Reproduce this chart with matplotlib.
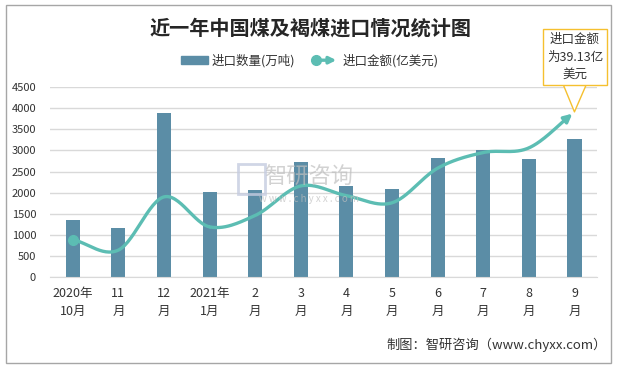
import numpy as np
import matplotlib
matplotlib.use('Agg')
import matplotlib.pyplot as plt
from matplotlib.patches import Rectangle, FancyArrowPatch
from matplotlib.lines import Line2D
from matplotlib.legend_handler import HandlerBase

plt.rcParams['font.family'] = ['Noto Sans CJK SC', 'DejaVu Sans']

months = ['2020年\n10月', '11\n月', '12\n月', '2021年\n1月', '2\n月', '3\n月',
          '4\n月', '5\n月', '6\n月', '7\n月', '8\n月', '9\n月']
qty = [1350, 1160, 3880, 2015, 2060, 2725, 2155, 2085, 2820, 3010, 2795, 3270]   # 万吨
amount = [8.9, 6.4, 19.0, 11.9, 14.6, 21.6, 19.3, 17.6, 25.8, 29.5, 30.6, 39.13]  # 亿美元

BAR = '#5B8DA6'
LINE = '#5CBDB3'


def catmull(x, y, n=30):
    # smoothed line like the office "smooth line" option
    x = np.asarray(x, float); y = np.asarray(y, float)
    px = np.concatenate([[2*x[0]-x[1]], x, [2*x[-1]-x[-2]]])
    py = np.concatenate([[2*y[0]-y[1]], y, [2*y[-1]-y[-2]]])
    xs, ys = [], []
    t = np.linspace(0, 1, n)
    for i in range(1, len(px)-2):
        for p, out in ((px, xs), (py, ys)):
            p0, p1, p2, p3 = p[i-1], p[i], p[i+1], p[i+2]
            out.extend(0.5*((2*p1) + (-p0+p2)*t + (2*p0-5*p1+4*p2-p3)*t**2 + (-p0+3*p1-3*p2+p3)*t**3))
    return np.array(xs), np.array(ys)


class ArrowHandler(HandlerBase):
    def create_artists(self, legend, orig_handle, xdescent, ydescent, width, height, fontsize, trans):
        y = height/2 - ydescent
        arr = FancyArrowPatch((-xdescent + 3, y), (width - xdescent, y), arrowstyle='-|>',
                              mutation_scale=10, color=LINE, lw=2.4, transform=trans)
        dot = Line2D([-xdescent + 3], [y], marker='o', ms=7, color=LINE, transform=trans)
        return [arr, dot]


fig = plt.figure(figsize=(6.17, 3.69), dpi=100)
fig.patches.append(Rectangle((0.009, 0.016), 0.982, 0.97, transform=fig.transFigure,
                             fill=False, edgecolor='#A6A6A6', lw=1))

ax = fig.add_axes([0.081, 0.249, 0.887, 0.515])
x = np.arange(len(months))
bars = ax.bar(x, qty, width=0.31, color=BAR, zorder=2)
ax.set_xlim(-0.5, len(months) - 0.5)
ax.set_ylim(0, 4500)
ax.set_yticks(np.arange(0, 4501, 500))
ax.grid(axis='y', color='#D9D9D9', lw=1)
ax.set_axisbelow(True)
for s in ['top', 'right', 'left']:
    ax.spines[s].set_visible(False)
ax.spines['bottom'].set_color('#D9D9D9')
ax.tick_params(length=0, colors='#333333')
ax.tick_params(axis='y', pad=10, labelsize=8)
ax.tick_params(axis='x', pad=7, labelsize=9)
ax.set_xticks(x)
ax.set_xticklabels(months, linespacing=1.55)

ax2 = ax.twinx()
ax2.set_ylim(0, 45)
ax2.axis('off')
sx, sy = catmull(x, amount)
ax2.plot(sx[:-6], sy[:-6], color=LINE, lw=2.4, solid_capstyle='round', zorder=3)
ax2.plot(x[0], amount[0], 'o', color=LINE, ms=7, zorder=4)
ax2.annotate('', xy=(x[-1], amount[-1]), xytext=(sx[-8], sy[-8]),
             arrowprops=dict(arrowstyle='-|>', color=LINE, lw=2.4, mutation_scale=12))

# callout for the last value
ax2.annotate('进口金额\n为39.13亿\n美元', xy=(x[-1], amount[-1]), xytext=(575, 312),
             textcoords='figure pixels', ha='center', va='center', fontsize=9,
             color='#333333', linespacing=1.45, annotation_clip=False,
             bbox=dict(boxstyle='square,pad=0.3', fc='white', ec='#F5C02F', lw=1),
             arrowprops=dict(arrowstyle='wedge,tail_width=1.8', fc='white', ec='#F5C02F',
                             lw=1, shrinkA=0, shrinkB=0))

fig.text(0.503, 0.925, '近一年中国煤及褐煤进口情况统计图', ha='center', va='center',
         fontsize=14.5, fontweight='bold', color='#262626')

leg = fig.legend([Rectangle((0, 0), 1, 1, color=BAR), Line2D([], [])],
                 ['进口数量(万吨)', '进口金额(亿美元)'],
                 handler_map={Line2D: ArrowHandler()},
                 loc='center', bbox_to_anchor=(0.502, 0.835), ncol=2, frameon=False,
                 fontsize=9, handlelength=2.2, handleheight=0.55, handletextpad=0.3,
                 columnspacing=1.3)
for t in leg.get_texts():
    t.set_color('#333333')

# watermark
fig.text(0.50, 0.52, '智研咨询', ha='center', va='center', fontsize=16, color='#BFBFBF', alpha=0.7)
fig.text(0.50, 0.46, 'w w w . c h y x x . c o m', ha='center', va='center', fontsize=7,
         color='#BFBFBF', alpha=0.7)
fig.patches.append(Rectangle((0.385, 0.475), 0.045, 0.08, transform=fig.transFigure,
                             fill=False, edgecolor='#C5CCE0', lw=2, alpha=0.8))

fig.text(0.983, 0.065, '制图：智研咨询（www.chyxx.com）', ha='right', va='center',
         fontsize=9.5, color='#333333')

fig.savefig('out.png', dpi=100)
